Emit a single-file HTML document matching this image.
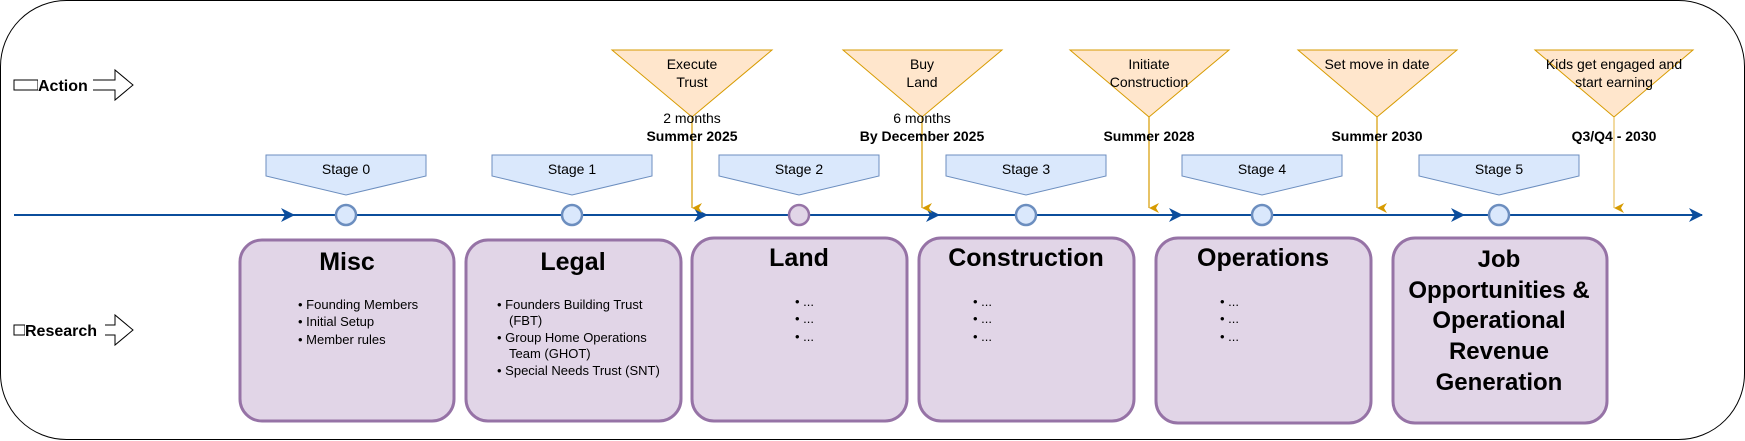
<!DOCTYPE html>
<html><head><meta charset="utf-8"><style>
html,body{margin:0;padding:0;background:#fff;}
svg{display:block;font-family:"Liberation Sans",Arial,sans-serif;}
</style></head><body>
<svg width="1745" height="441" viewBox="0 0 1745 441" xmlns="http://www.w3.org/2000/svg">
<defs>
<marker id="ab" markerWidth="14" markerHeight="14" refX="13" refY="7" orient="auto" markerUnits="userSpaceOnUse"><path d="M0,0 L14,7 L0,14 L4,7 Z" fill="#0b4d9c"/></marker>
<marker id="ao" markerWidth="10" markerHeight="11" refX="5" refY="10" orient="auto" markerUnits="userSpaceOnUse"><path d="M0,0 L5,10 L10,0 L5,3 Z" fill="#d79b00"/></marker>
</defs>
<rect x="0.5" y="0.5" width="1744" height="439" rx="66" ry="66" fill="#fff" stroke="#000" stroke-width="1"/>

<!-- Action / Research arrows -->
<path d="M14,80 L115,80 L115,70 L133,85 L115,100 L115,90 L14,90 Z" fill="#fff" stroke="#000" stroke-width="1"/>
<rect x="14" y="80" width="24" height="10" fill="#fff" stroke="#000"/>
<rect x="38" y="76" width="55" height="18" fill="#fff"/>
<text x="38" y="91" font-size="16" font-weight="bold">Action</text>
<path d="M14,325 L115,325 L115,315 L133,330 L115,345 L115,335 L14,335 Z" fill="#fff" stroke="#000" stroke-width="1"/>
<rect x="14" y="325" width="11" height="10" fill="#fff" stroke="#000"/>
<rect x="25" y="321" width="80" height="18" fill="#fff"/>
<text x="25" y="336" font-size="16" font-weight="bold">Research</text>

<!-- timeline -->
<g stroke="#0b4d9c" stroke-width="2" fill="none">
<line x1="14" y1="215" x2="294" y2="215" marker-end="url(#ab)"/>
<line x1="294" y1="215" x2="707" y2="215" marker-end="url(#ab)"/>
<line x1="707" y1="215" x2="939" y2="215" marker-end="url(#ab)"/>
<line x1="939" y1="215" x2="1182" y2="215" marker-end="url(#ab)"/>
<line x1="1182" y1="215" x2="1464" y2="215" marker-end="url(#ab)"/>
<line x1="1464" y1="215" x2="1702" y2="215" marker-end="url(#ab)"/>
</g>

<!-- stages -->
<g fill="#dae8fc" stroke="#6c8ebf" stroke-width="1">
<path d="M266,155 H426 V176 L346,195 L266,176 Z"/>
<path d="M492,155 H652 V176 L572,195 L492,176 Z"/>
<path d="M719,155 H879 V176 L799,195 L719,176 Z"/>
<path d="M946,155 H1106 V176 L1026,195 L946,176 Z"/>
<path d="M1182,155 H1342 V176 L1262,195 L1182,176 Z"/>
<path d="M1419,155 H1579 V176 L1499,195 L1419,176 Z"/>
</g>
<g font-size="14" text-anchor="middle" fill="#000">
<text x="346" y="174">Stage 0</text>
<text x="572" y="174">Stage 1</text>
<text x="799" y="174">Stage 2</text>
<text x="1026" y="174">Stage 3</text>
<text x="1262" y="174">Stage 4</text>
<text x="1499" y="174">Stage 5</text>
</g>
<g fill="#dae8fc" stroke="#6c8ebf" stroke-width="2.5">
<circle cx="346" cy="215" r="10"/>
<circle cx="572" cy="215" r="10"/>
<circle cx="799" cy="215" r="10" fill="#e1d5e7" stroke="#9673a6"/>
<circle cx="1026" cy="215" r="10"/>
<circle cx="1262" cy="215" r="10"/>
<circle cx="1499" cy="215" r="10"/>
</g>

<!-- action triangles -->
<g fill="#ffe6cc" stroke="#d79b00" stroke-width="1">
<path d="M612,50 H772 L692,117 Z"/>
<path d="M843,50 H1002 L922,117 Z"/>
<path d="M1070,50 H1229 L1149,117 Z"/>
<path d="M1298,50 H1457 L1377,117 Z"/>
<path d="M1535,50 H1693 L1614,117 Z"/>
</g>
<g stroke="#d79b00" stroke-width="1.2">
<line x1="692" y1="117" x2="692" y2="208" marker-end="url(#ao)"/>
<line x1="922" y1="117" x2="922" y2="208" marker-end="url(#ao)"/>
<line x1="1149" y1="117" x2="1149" y2="208" marker-end="url(#ao)"/>
<line x1="1377" y1="117" x2="1377" y2="208" marker-end="url(#ao)"/>
<line x1="1614" y1="117" x2="1614" y2="208" marker-end="url(#ao)" stroke="#e8c060"/>
</g>
<g font-size="14" text-anchor="middle" fill="#000">
<text x="692" y="69">Execute</text><text x="692" y="87">Trust</text>
<text x="922" y="69">Buy</text><text x="922" y="87">Land</text>
<text x="1149" y="69">Initiate</text><text x="1149" y="87">Construction</text>
<text x="1377" y="69">Set move in date</text>
<text x="1614" y="69">Kids get engaged and</text><text x="1614" y="87">start earning</text>
<text x="692" y="123">2 months</text>
<text x="922" y="123">6 months</text>
<g font-weight="bold">
<text x="692" y="141">Summer 2025</text>
<text x="922" y="141">By December 2025</text>
<text x="1149" y="141">Summer 2028</text>
<text x="1377" y="141">Summer 2030</text>
<text x="1614" y="141">Q3/Q4 - 2030</text>
</g>
</g>

<!-- boxes -->
<g fill="#e1d5e7" stroke="#9673a6" stroke-width="3">
<rect x="240" y="240" width="214" height="181" rx="22"/>
<rect x="466" y="240" width="215" height="181" rx="22"/>
<rect x="692" y="238" width="215" height="183" rx="22"/>
<rect x="919" y="238" width="215" height="183" rx="22"/>
<rect x="1156" y="238" width="215" height="185" rx="22"/>
<rect x="1393" y="238" width="214" height="185" rx="22"/>
</g>
<g font-size="25" font-weight="bold" text-anchor="middle" fill="#000">
<text x="347" y="270">Misc</text>
<text x="573" y="270">Legal</text>
<text x="799" y="266">Land</text>
<text x="1026" y="266">Construction</text>
<text x="1263" y="266">Operations</text>
<g font-size="24">
<text x="1499" y="267">Job</text>
<text x="1499" y="298">Opportunities &amp;</text>
<text x="1499" y="328">Operational</text>
<text x="1499" y="359">Revenue</text>
<text x="1499" y="390">Generation</text>
</g>
</g>
<g font-size="13" fill="#000">
<text x="298" y="309">•  Founding Members</text>
<text x="298" y="326">•  Initial Setup</text>
<text x="298" y="344">•  Member rules</text>
<text x="497" y="309">•  Founders Building Trust</text>
<text x="509" y="325">(FBT)</text>
<text x="497" y="342">•  Group Home Operations</text>
<text x="509" y="358">Team (GHOT)</text>
<text x="497" y="375">•  Special Needs Trust (SNT)</text>
<text x="795" y="306">•  ...</text>
<text x="795" y="323">•  ...</text>
<text x="795" y="341">•  ...</text>
<text x="973" y="306">•  ...</text>
<text x="973" y="323">•  ...</text>
<text x="973" y="341">•  ...</text>
<text x="1220" y="306">•  ...</text>
<text x="1220" y="323">•  ...</text>
<text x="1220" y="341">•  ...</text>
</g>
</svg>
</body></html>
